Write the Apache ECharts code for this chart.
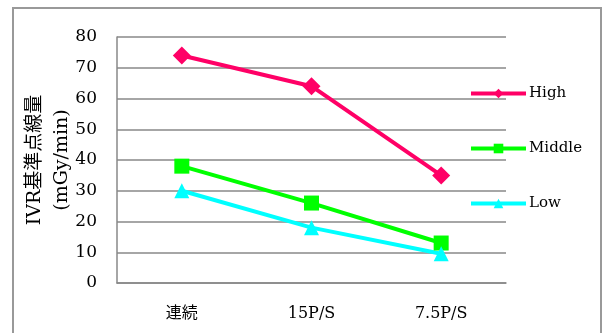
<!DOCTYPE html>
<html><head><meta charset="utf-8">
<script src="https://cdn.jsdelivr.net/npm/echarts@6/dist/echarts.min.js"></script>
<style>html,body{margin:0;padding:0;background:#fff}#c{width:609px;height:333px}</style>
</head><body><div id="c"></div>
<script>
const categories = ['連続', '15P/S', '7.5P/S'];
const highValues = [74, 64, 35];
const middleValues = [38, 26, 13];
const lowValues = [30, 18, 9.5];
const seriesNames = ['High', 'Middle', 'Low'];
const yAxisTitle = 'IVR基準点線量\n(mGy/min)';

const font = '"DejaVu Serif", "Noto Sans CJK JP", serif';
const chart = echarts.init(document.getElementById('c'));
function mk(name, data, color, symbol, size) {
  return {name, type: 'line', data, color, symbol, symbolSize: size,
    lineStyle: {width: 4, color}, itemStyle: {color}, animation: false};
}
chart.setOption({
  animation: false,
  graphic: [{type: 'rect', shape: {x: 13, y: 8, width: 588, height: 340},
    style: {fill: 'none', stroke: '#999', lineWidth: 2}, silent: true}],
  grid: {left: 117, right: 103, top: 37, bottom: 50},
  legend: {orient: 'vertical', left: 469, top: 86, padding: 0, itemGap: 40, itemWidth: 55, itemHeight: 12,
    lineStyle: {width: 4},
    data: seriesNames, textStyle: {fontFamily: font, fontSize: 15, color: '#000', padding: [0, 0, 0, -2]}},
  xAxis: {type: 'category', data: categories, boundaryGap: true,
    axisLine: {lineStyle: {color: '#888', width: 1.5}}, axisTick: {show: false},
    axisLabel: {fontFamily: font, fontSize: 16, color: '#000', margin: 23}},
  yAxis: {type: 'value', min: 0, max: 80, interval: 10,
    name: yAxisTitle, nameLocation: 'middle', nameGap: 41, nameRotate: 90, nameMoveOverlap: false,
    nameTextStyle: {fontFamily: font, fontSize: 19, color: '#000', lineHeight: 27},
    axisLine: {show: true, lineStyle: {color: '#888', width: 1.5}}, axisTick: {show: false},
    splitLine: {lineStyle: {color: '#888', width: 1.5}},
    axisLabel: {fontFamily: font, fontSize: 17, color: '#000', margin: 20}},
  series: [
    mk('High', highValues, '#FF0066', 'diamond', 18),
    mk('Middle', middleValues, '#00FF00', 'rect', 15),
    mk('Low', lowValues, '#00FFFF', 'triangle', 15)
  ]
});
</script></body></html>
